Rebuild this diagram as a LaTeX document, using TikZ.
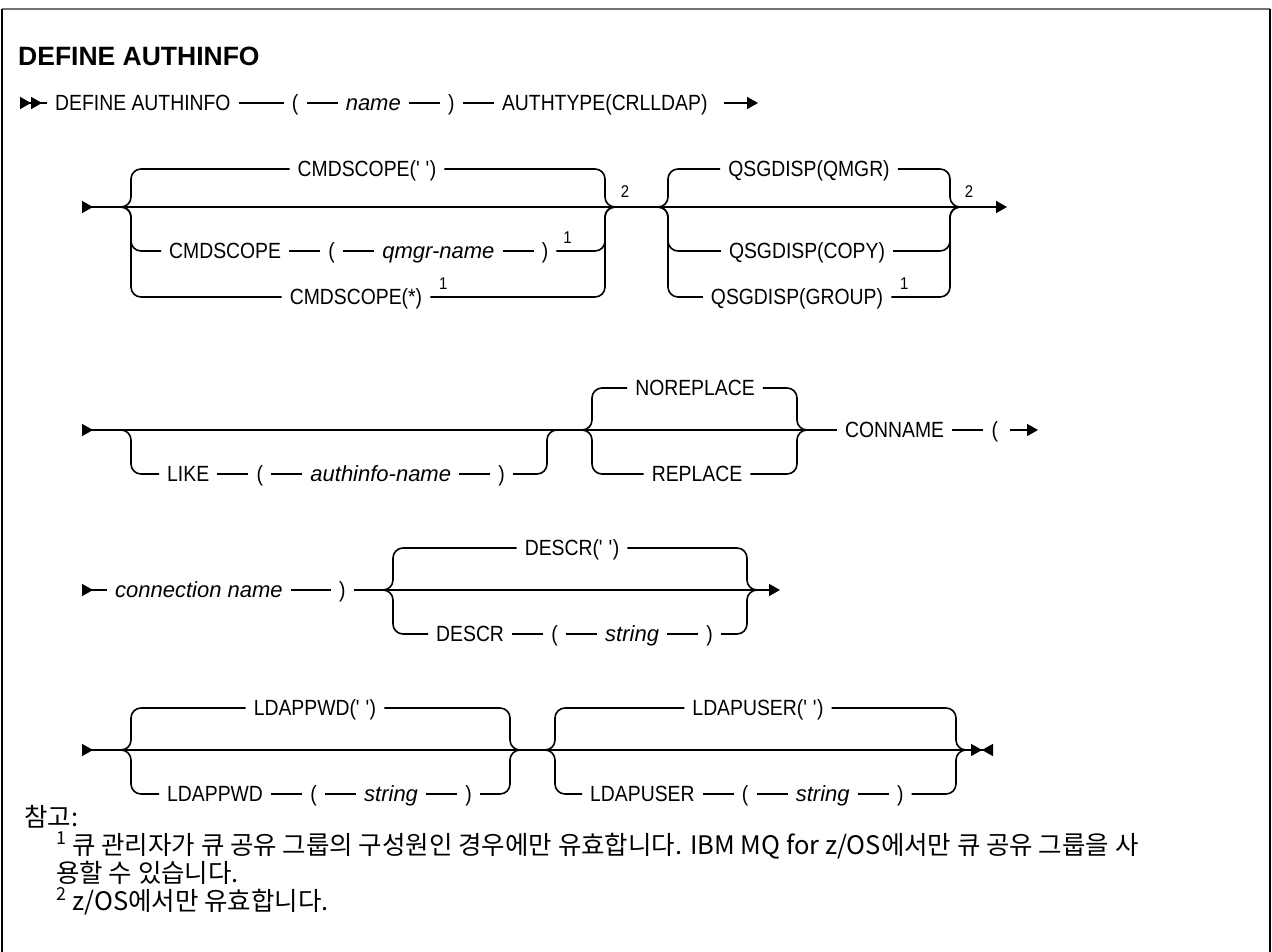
\documentclass[tikz,border=0pt]{standalone}
\usepackage{fontspec}
\setmainfont{Liberation Sans}
\newfontfamily\railfont[FakeStretch=0.88]{Liberation Sans}
\newfontfamily\krfont{Noto Sans CJK KR}
\usetikzlibrary{arrows.meta,positioning,calc}

\tikzset{
  tri/.tip={Triangle[length=11pt,width=12pt]},
  irt/.tip={Triangle[reversed,length=11pt,width=12pt]},
}

\begin{document}
\begin{tikzpicture}[
  x=1pt, y=-1pt,
  node distance=31pt,
  rail/.style={line width=1.6pt, rounded corners=10pt},
  kw/.style={font=\railfont\fontsize{22}{24}\selectfont, inner xsep=8pt,
             inner ysep=0pt, text height=15.7pt, text depth=0pt},
  var/.style={kw, font=\itshape\fontsize{22}{24}\selectfont},
  fn/.style={font=\railfont\fontsize{17}{17}\selectfont, inner sep=0pt},
  kr/.style={font=\krfont\fontsize{25.5}{28}\selectfont, inner sep=0pt,
             anchor=base west},
]
\useasboundingbox (0,0) rectangle (1272,952);

% frame
\draw[line width=2pt, black!55] (2,9) -- (1270,9);
\draw[line width=2pt] (2,9) -- (2,952) (1270,9) -- (1270,952);

\node[font=\bfseries\fontsize{26.5}{30}\selectfont, anchor=base west,
      inner sep=0pt] (head) at (18,66) {DEFINE AUTHINFO};

% =============================================================== row 1
\coordinate (s1) at (20,103);
\node[kw, anchor=west] (def) at (47,103) {DEFINE AUTHINFO};
\node[kw, right=45pt of def] (lp1) {(};
\node[var, right=of lp1] (nm) {name};
\node[kw, right=of nm] (rp1) {)};
\node[kw, right=of rp1] (auth) {AUTHTYPE(CRLLDAP)};
\coordinate (e1) at (758,103);

\draw[rail, arrows={irt[]irt[]-}] (s1) -- (def);
\foreach \a/\b in {def/lp1, lp1/nm, nm/rp1, rp1/auth}
  \draw[rail] (\a) -- (\b);
\draw[rail, arrows={-tri[]}, shorten <=8pt] (auth) -- (e1);

% =============================================================== row 2
\coordinate (s2) at (82,207);
\coordinate (j1l) at (131,207);
\coordinate (j1r) at (605,207);
\coordinate (j2l) at (668,207);
\coordinate (j2r) at (950,207);
\coordinate (e2) at (1007,207);
\draw[rail, arrows={irt[]-tri[]}] (s2) -- (e2);

\node[kw] (cs1) at (367,169) {CMDSCOPE(\textquotesingle\ \textquotesingle)};
\node[kw, anchor=west] (cs2) at (161,251) {CMDSCOPE};
\node[kw, right=of cs2] (cs2a) {(};
\node[var, right=of cs2a] (cs2b) {qmgr-name};
\node[kw, right=of cs2b] (cs2c) {)};
\node[fn] (n1a) at ($(cs2c.east)+(11,-13)$) {1};
\node[kw] (cs3) at (356,297) {CMDSCOPE(*)};
\node[fn] (n1b) at ($(cs3.east)+(13,-13)$) {1};
\foreach \a/\b in {cs2/cs2a, cs2a/cs2b, cs2b/cs2c}
  \draw[rail] (\a) -- (\b);
\foreach \b in {cs1, cs2, cs3}
  \draw[rail] ($(j1l)-(12,0)$) -- (j1l) |- (\b.west);
\foreach \b in {cs1, cs2c, cs3}
  \draw[rail] (\b.east) -| (j1r) -- ($(j1r)+(12,0)$);
\node[fn] (n2a) at ($(j1r)+(20,-15)$) {2};

\node[kw] (qs1) at (809,169) {QSGDISP(QMGR)};
\node[kw] (qs2) at (807,251) {QSGDISP(COPY)};
\node[kw] (qs3) at (797,297) {QSGDISP(GROUP)};
\node[fn] (n1c) at ($(qs3.east)+(13,-13)$) {1};
\foreach \b in {qs1, qs2, qs3} {
  \draw[rail] ($(j2l)-(12,0)$) -- (j2l) |- (\b.west);
  \draw[rail] (\b.east) -| (j2r) -- ($(j2r)+(12,0)$);
}
\node[fn] (n2b) at ($(j2r)+(19,-15)$) {2};

% =============================================================== row 3
\coordinate (s3) at (82,430);
\coordinate (j3l) at (131,430);
\coordinate (j3r) at (547,430);
\coordinate (j4l) at (592,430);
\coordinate (j4r) at (797,430);
\node[kw, anchor=west] (con) at (837,430) {CONNAME};
\node[kw, right=of con] (con1) {(};
\coordinate (e3) at (1038,430);
\draw[rail, arrows={irt[]-}] (s3) -- (con);
\draw[rail] (con) -- (con1);
\draw[rail, arrows={-tri[]}, shorten <=4pt] (con1) -- (e3);

\node[kw, anchor=west] (lk) at (159,474) {LIKE};
\node[kw, right=of lk] (lk1) {(};
\node[var, right=of lk1] (lk2) {authinfo-name};
\node[kw, right=of lk2] (lk3) {)};
\foreach \a/\b in {lk/lk1, lk1/lk2, lk2/lk3}
  \draw[rail] (\a) -- (\b);
\draw[rail] ($(j3l)-(12,0)$) -- (j3l) |- (lk.west);
\draw[rail] (lk3.east) -| (j3r) -- ($(j3r)+(12,0)$);

\node[kw] (nrp) at (695,388) {NOREPLACE};
\node[kw] (rp) at (697,474) {REPLACE};
\foreach \b in {nrp, rp} {
  \draw[rail] ($(j4l)-(12,0)$) -- (j4l) |- (\b.west);
  \draw[rail] (\b.east) -| (j4r) -- ($(j4r)+(12,0)$);
}

% =============================================================== row 4
\coordinate (s4) at (82,590);
\node[var, anchor=west] (cn) at (107,590) {connection name};
\node[kw, right=40pt of cn] (cn1) {)};
\coordinate (j5l) at (393,590);
\coordinate (j5r) at (747,590);
\coordinate (e4) at (780,590);
\draw[rail, arrows={irt[]-}] (s4) -- (cn);
\draw[rail] (cn) -- (cn1);
\draw[rail, arrows={-tri[]}] (cn1) -- (e4);

\node[kw] (dd) at (572,548) {DESCR(\textquotesingle\ \textquotesingle)};
\node[kw, anchor=west] (ds) at (428,634) {DESCR};
\node[kw, right=of ds] (ds1) {(};
\node[var, right=of ds1] (ds2) {string};
\node[kw, right=of ds2] (ds3) {)};
\foreach \a/\b in {ds/ds1, ds1/ds2, ds2/ds3}
  \draw[rail] (\a) -- (\b);
\foreach \a/\b in {dd/dd, ds/ds3} {
  \draw[rail] ($(j5l)-(12,0)$) -- (j5l) |- (\a.west);
  \draw[rail] (\b.east) -| (j5r) -- ($(j5r)+(12,0)$);
}

% =============================================================== row 5
\coordinate (s5) at (82,750);
\coordinate (j6l) at (131,750);
\coordinate (j6r) at (510,750);
\coordinate (j7l) at (555,750);
\coordinate (j7r) at (956,750);
\coordinate (e5) at (993,750);
\draw[rail, arrows={irt[]-tri[]irt[]}] (s5) -- (e5);

\node[kw] (pd) at (315,708) {LDAPPWD(\textquotesingle\ \textquotesingle)};
\node[kw, anchor=west] (pw) at (159,794) {LDAPPWD};
\node[kw, right=of pw] (pw1) {(};
\node[var, right=of pw1] (pw2) {string};
\node[kw, right=of pw2] (pw3) {)};
\node[kw] (ud) at (758,708) {LDAPUSER(\textquotesingle\ \textquotesingle)};
\node[kw, anchor=west] (us) at (582,794) {LDAPUSER};
\node[kw, right=of us] (us1) {(};
\node[var, right=of us1] (us2) {string};
\node[kw, right=of us2] (us3) {)};
\foreach \a/\b in {pw/pw1, pw1/pw2, pw2/pw3, us/us1, us1/us2, us2/us3}
  \draw[rail] (\a) -- (\b);
\foreach \a/\b in {pd/pd, pw/pw3} {
  \draw[rail] ($(j6l)-(12,0)$) -- (j6l) |- (\a.west);
  \draw[rail] (\b.east) -| (j6r) -- ($(j6r)+(12,0)$);
}
\foreach \a/\b in {ud/ud, us/us3} {
  \draw[rail] ($(j7l)-(12,0)$) -- (j7l) |- (\a.west);
  \draw[rail] (\b.east) -| (j7r) -- ($(j7r)+(12,0)$);
}

% =============================================================== notes
\node[kr] (nt) at (24,826) {참고:};
\node[kr] (nt1) at (56,854)
  {\textsuperscript{1} 큐 관리자가 큐 공유 그룹의 구성원인 경우에만 유효합니다. IBM MQ for z/OS에서만 큐 공유 그룹을 사};
\node[kr] (nt1b) at (56,882) {용할 수 있습니다.};
\node[kr] (nt2) at (56,910) {\textsuperscript{2} z/OS에서만 유효합니다.};

\end{tikzpicture}
\end{document}
